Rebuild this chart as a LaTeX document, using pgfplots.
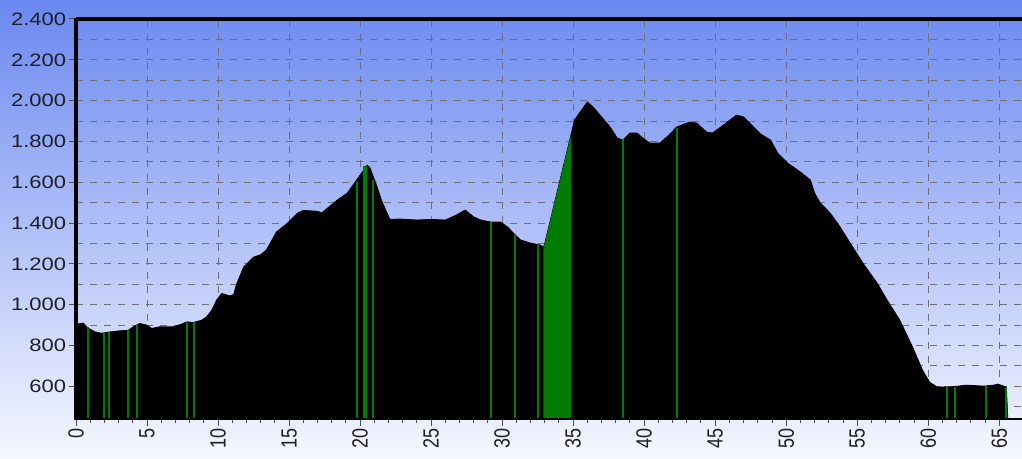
\documentclass[border=0pt]{standalone}
\usepackage{pgfplots}
\pgfplotsset{compat=1.18}
\usepackage{pgfplotstable}
\usepackage{fontspec}
\setmainfont{Liberation Sans}
\definecolor{bgtop}{RGB}{106,136,240}
\definecolor{bgbot}{RGB}{246,248,255}
\definecolor{gline}{RGB}{0,125,0}
\definecolor{gridc}{RGB}{110,110,125}
\definecolor{lbl}{RGB}{30,30,40}

\pgfplotstableread{
x y
0 905
0.5 910
0.87 885
1.34 867
1.8 860
2.4 867
3.1 872
3.68 875
4.04 892
4.5 908
4.98 900
5.33 884
5.9 892
6.85 892
7.44 905
7.8 916
8.26 913
8.85 924
9.2 941
9.56 973
9.9 1023
10.26 1055
10.85 1043
11.1 1050
11.3 1100
11.8 1184
12.5 1233
13.0 1245
13.4 1268
13.8 1317
14.1 1356
14.9 1400
15.6 1449
16.0 1462
17.0 1458
17.3 1450
17.7 1473
18.4 1513
19.1 1547
19.6 1596
20.0 1635
20.5 1684
20.7 1670
21.2 1577
21.5 1513
21.8 1464
22.1 1418
22.8 1420
24.0 1415
25.0 1418
26.0 1415
26.8 1440
27.4 1464
28.0 1430
28.5 1415
29.2 1405
29.9 1405
30.4 1380
30.8 1350
31.3 1317
32.0 1302
32.7 1292
32.9 1282
33.0 1300
33.9 1560
34.84 1830
35.1 1905
35.5 1945
36.0 1993
36.4 1969
37.0 1920
37.6 1871
38.1 1817
38.5 1807
39.0 1841
39.5 1841
39.9 1817
40.4 1792
41.1 1792
41.6 1822
42.3 1871
43.2 1895
43.7 1890
44.4 1846
44.8 1841
45.4 1871
46.5 1929
47.0 1920
47.7 1871
48.2 1836
48.9 1807
49.4 1743
50.1 1694
51.0 1650
51.7 1611
52.0 1547
52.4 1498
53.1 1449
53.8 1380
54.5 1302
55.4 1204
56.4 1106
57.1 1023
58.0 924
58.9 792
59.6 679
60.1 620
60.6 598
61.3 596
62.1 601
62.7 606
63.9 601
64.6 606
64.9 611
65.5 596
65.6 440
66.6 440
}\profile

\pgfplotstableread{
x y
32.9 1282
33.0 1300
33.9 1560
34.84 1830
}\greenarea

\pgfplotstableread{
x y
0.82 890
2.0 862
2.32 866
3.68 875
4.27 900
7.84 915
8.31 913
19.8 1600
20.9 1611
29.2 1405
30.94 1341
32.56 1292
38.52 1810
42.3 1866
61.3 596
61.9 598
64.04 601
65.5 596
}\glines

\pgfplotstableread{
x y
20.33 1680
}\gthick

\begin{document}
\begin{tikzpicture}
\shade[top color=bgtop, bottom color=bgbot] (-38pt,-20pt) rectangle (473pt,209.5pt);
\begin{axis}[
  scale only axis, width=473pt, height=200pt,
  xmin=0, xmax=66.6, ymin=440, ymax=2400,
  axis line style={draw=none},
  tick pos=left, tick align=outside,
  xtick={0,5,...,65},
  xticklabels={0,5,10,15,20,25,30,35,40,45,50,55,60,65},
  minor x tick num=4,
  ytick={600,800,...,2400},
  yticklabels={600,800,1.000,1.200,1.400,1.600,1.800,2.000,2.200,2.400},
  extra y ticks={500,700,...,2300},
  extra y tick labels={},
  extra y tick style={major tick length=0pt, grid=major},
  xmajorgrids, ymajorgrids,
  major grid style={draw=gridc, line width=0.5pt, dash pattern=on 3.5pt off 3.5pt},
  major tick length=3.5pt, minor tick length=2pt,
  every tick/.style={draw=gridc!70!black, line width=0.5pt},
  tick label style={font=\fontsize{9}{10}\selectfont, text=lbl},
  yticklabel style={xscale=1.22, inner sep=1pt},
  xticklabel style={rotate=90, yscale=1.22, anchor=east, inner sep=1pt, yshift=0pt},
]
\addplot[fill=black, draw=black, line width=0.4pt] table[x=x,y=y] {\profile} \closedcycle;
\addplot[fill=gline, draw=none] table[x=x,y=y] {\greenarea} \closedcycle;
\addplot[ycomb, draw=gline, line width=1pt, mark=none] table[x=x,y=y] {\glines};
\addplot[ycomb, draw=gline, line width=2pt, mark=none] table[x=x,y=y] {\gthick};
\end{axis}
\draw[line width=2pt, black] (0,-0.6pt) -- (0,200.6pt);
\draw[line width=1.6pt, black] (0,200pt) -- (473pt,200pt);
\draw[line width=1.3pt, black] (0,0) -- (473pt,0);
\pgfresetboundingbox
\useasboundingbox (-38pt,-20pt) rectangle (473pt,209.5pt);
\end{tikzpicture}
\end{document}
